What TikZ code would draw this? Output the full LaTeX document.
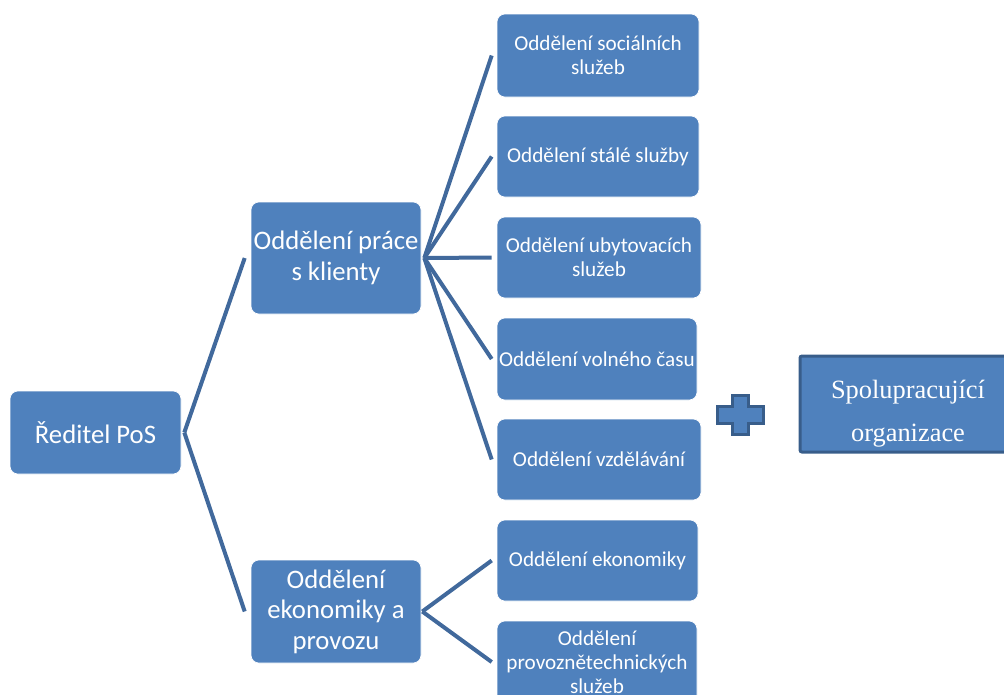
\documentclass[tikz,border=0pt]{standalone}
\usepackage{fontspec}
\setmainfont{Carlito}
\newfontfamily\serifb{Liberation Serif}
\definecolor{boxblue}{HTML}{4F81BD}
\definecolor{linkblue}{HTML}{41699C}
\definecolor{edgeblue}{HTML}{385D8A}
\begin{document}
\begin{tikzpicture}[x=1pt,y=-1pt,
  box/.style={fill=boxblue, draw=white, line width=0.6pt, rounded corners=8pt,
              text=white, align=center, inner sep=1pt},
  topbox/.style={box, font=\fontsize{26.7}{30.5}\selectfont},
  childbox/.style={box, font=\fontsize{21.2}{24}\selectfont},
  link/.style={draw=linkblue, line width=4pt},
  partner/.style={fill=boxblue, draw=edgeblue, line width=3pt, rounded corners=2pt},
  partnertext/.style={text=white, align=center, font=\serifb\fontsize{26.4}{43}\selectfont},
  plusmark/.style={fill=boxblue, draw=edgeblue, line width=3pt}
]
\useasboundingbox (0,0) rectangle (1004,694);
\begin{scope}
\clip (0,0) rectangle (1004,694);
% level 0
\node[topbox, minimum width=171pt, minimum height=83pt] (root) at (95.5,432.5) {Ředitel PoS};
% level 1
\node[topbox, minimum width=170pt, minimum height=112pt] (ka) at (336,258) {Oddělení práce\\s klienty};
\node[topbox, minimum width=170pt, minimum height=103pt] (kb) at (336,611.5) {Oddělení\\ekonomiky a\\provozu};
% level 2
\node[childbox, minimum width=202pt, minimum height=83pt] (c1) at (598,55.5) {Oddělení sociálních\\služeb};
\node[childbox, minimum width=202pt, minimum height=81pt] (c2) at (598,156.5) {Oddělení stálé služby};
\node[childbox, minimum width=204pt, minimum height=81pt] (c3) at (599,257.5) {Oddělení ubytovacích\\služeb};
\node[childbox, minimum width=200pt, minimum height=82pt, inner sep=0pt] (c4) at (597,359) {Oddělení volného času};
\node[childbox, minimum width=204pt, minimum height=81pt] (c5) at (599,459.5) {Oddělení vzdělávání};
\node[childbox, minimum width=201pt, minimum height=81pt] (c6) at (597.5,560.5) {Oddělení ekonomiky};
\node[childbox, minimum width=200pt, minimum height=82pt] (c7) at (597,662) {Oddělení\\provoznětechnických\\služeb};
% connectors
\draw[link] ([xshift=3pt]root.east) -- ([xshift=-6pt]ka.west);
\draw[link] ([xshift=3pt]root.east) -- ([xshift=-6pt]kb.west);
\foreach \c in {c1,c2,c3,c4,c5}
  \draw[link] ([xshift=3pt]ka.east) -- ([xshift=-5pt]\c.west);
\foreach \c in {c6,c7}
  \draw[link] ([xshift=1pt]kb.east) -- ([xshift=-5pt]\c.west);
% plus sign
\draw[plusmark] (732,395) -- (748,395) -- (748,406) -- (763,406) -- (763,423) -- (748,423)
  -- (748,434) -- (732,434) -- (732,423) -- (717,423) -- (717,406) -- (732,406) -- cycle;
% partner organisations
\node[partner, minimum width=216pt, minimum height=96pt] (sp) at (908,404) {};
\node[partnertext] (sptext) at (908,414) {Spolupracující\\organizace};
\end{scope}
\end{tikzpicture}
\end{document}
